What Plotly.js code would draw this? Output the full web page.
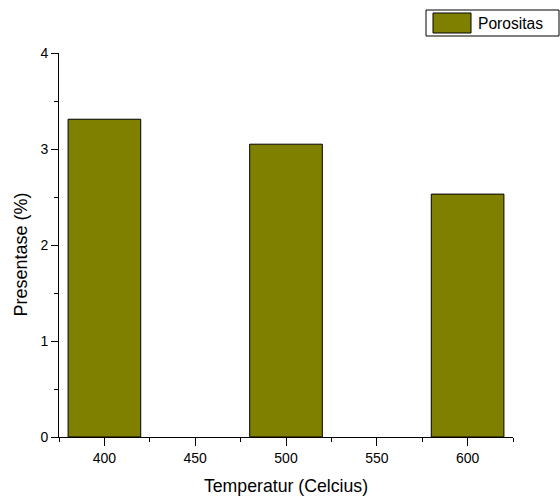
<!DOCTYPE html>
<html>
<head>
<meta charset="utf-8">
<script src="https://cdn.plot.ly/plotly-3.0.1.min.js"></script>
<style>html,body{margin:0;padding:0;background:#fff;}#chart{width:560px;height:496px;}</style>
</head>
<body>
<div id="chart"></div>
<script>
const temperatures = [400, 500, 600];
const porositas = [3.31, 3.05, 2.53];
const seriesName = "Porositas";
const xTickVals = [400, 450, 500, 550, 600];
const yTickVals = [0, 1, 2, 3, 4];
const xTitle = "Temperatur (Celcius)";
const yTitle = "Presentase (%)";

const font = "Liberation Sans, Arial, sans-serif";

const trace = {
  type: "bar",
  x: temperatures,
  y: porositas,
  name: seriesName,
  width: 40,
  marker: {color: "#808000", line: {color: "#000000", width: 1}},
  showlegend: false
};

const layout = {
  width: 560, height: 496,
  margin: {l: 59, r: 47, t: 53, b: 59},
  paper_bgcolor: "#ffffff", plot_bgcolor: "#ffffff",
  font: {family: font, color: "#000000", size: 14},
  xaxis: {
    range: [375, 625], showgrid: false, zeroline: false,
    showline: true, linecolor: "#000", linewidth: 1,
    ticks: "outside", ticklen: 8, tickwidth: 1, tickcolor: "#000",
    tickmode: "array", tickvals: xTickVals,
    minor: {dtick: 25, tick0: 375, ticks: "outside", ticklen: 4, tickcolor: "#000", showgrid: false},
    tickfont: {size: 14, family: font},
    title: {text: xTitle, font: {size: 17.7, family: font}, standoff: 15}
  },
  yaxis: {
    range: [0, 4], showgrid: false, zeroline: false,
    showline: true, linecolor: "#000", linewidth: 1,
    ticks: "outside", ticklen: 7, tickwidth: 1, tickcolor: "#000",
    tickmode: "array", tickvals: yTickVals,
    minor: {dtick: 0.5, ticks: "outside", ticklen: 4, tickcolor: "#000", showgrid: false},
    tickfont: {size: 14, family: font}
  },
  shapes: [
    {type: "rect", xref: "paper", yref: "paper", x0: (426-59)/454, x1: (559-59)/454, y0: (437-36)/384, y1: (437-10)/384,
     line: {color: "#000", width: 1}, fillcolor: "#fff"},
    {type: "rect", xref: "paper", yref: "paper", x0: (433-59)/454, x1: (471-59)/454, y0: (437-33)/384, y1: (437-13)/384,
     line: {color: "#000", width: 1}, fillcolor: "#808000"}
  ],
  annotations: [
    {xref: "paper", yref: "paper", x: (476-59)/454, y: (437-23)/384, xanchor: "left", yanchor: "middle",
     text: seriesName, showarrow: false, font: {size: 15.6, family: font, color: "#000"}},
    {xref: "paper", yref: "paper", x: (21-59)/454, y: (437-254.5)/384, xanchor: "center", yanchor: "middle",
     textangle: -90, text: yTitle, showarrow: false, font: {size: 18, family: font, color: "#000"}}
  ]
};

Plotly.newPlot("chart", [trace], layout, {displayModeBar: false, staticPlot: true});
</script>
</body>
</html>
